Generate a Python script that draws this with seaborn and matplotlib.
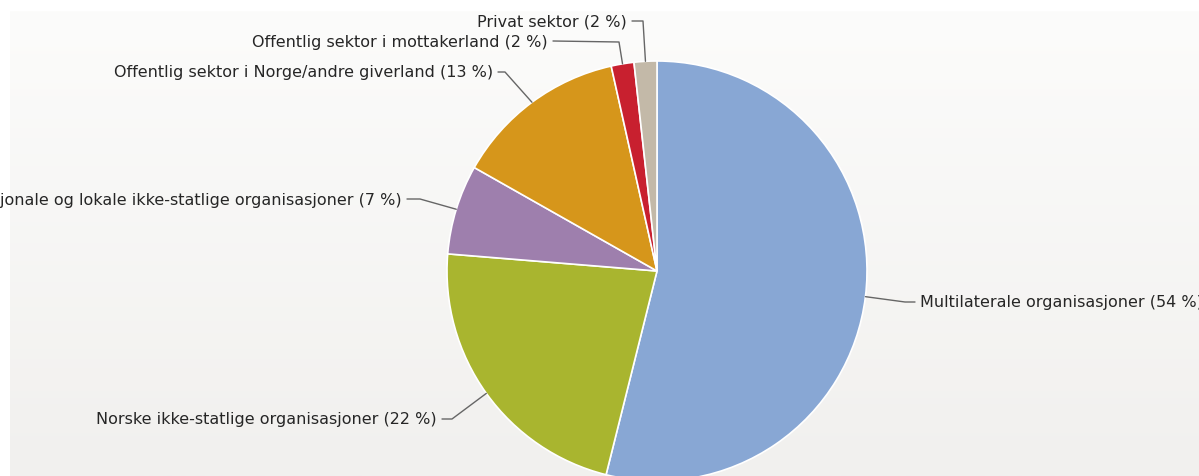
import numpy as np
import matplotlib
matplotlib.use("Agg")
import matplotlib.pyplot as plt
import seaborn as sns

# data
categories = [
    "Multilaterale organisasjoner",
    "Norske ikke-statlige organisasjoner",
    "Internasjonale og lokale ikke-statlige organisasjoner",
    "Offentlig sektor i Norge/andre giverland",
    "Offentlig sektor i mottakerland",
    "Privat sektor",
]
shares = [53.9, 22.4, 6.9, 13.3, 1.75, 1.75]
colors = ["#88a7d4", "#a9b52f", "#9e7fad", "#d6961b", "#c8202f", "#c3b9a8"]

sns.set_theme(style="white")
plt.rcParams["font.family"] = ["DejaVu Sans"]

W, H = 1199, 477
fig = plt.figure(figsize=(W / 100, H / 100), dpi=100, facecolor="white")
ax = fig.add_axes([0, 0, 1, 1])

# light gradient panel behind the pie
grad = np.linspace(0, 1, 256).reshape(-1, 1)
bg = matplotlib.colors.LinearSegmentedColormap.from_list("bg", ["#fcfcfb", "#f1f0ee"])
ax.imshow(grad, cmap=bg, extent=[10, W, 0, H - 12], aspect="auto", zorder=0)

cx, cy, r = 657, H - 272, 210
wedges, _ = ax.pie(shares, colors=colors, startangle=90, counterclock=False,
                   center=(cx, cy), radius=r,
                   wedgeprops=dict(edgecolor="white", linewidth=1.2, zorder=2))

# label layout in pixel coords (from top): text x, text y, alignment, elbow x, elbow y
layout = [
    (920, 303, "left", 905, 303),
    (437, 420, "right", 452, 420),
    (402, 200, "right", 420, 200),
    (493, 73, "right", 505, 73),
    (548, 42, "right", 619, 43),
    (627, 22, "right", 643, 22),
]

for w, name, val, (tx, ty, ha, ex, ey) in zip(wedges, categories, shares, layout):
    mid = np.deg2rad((w.theta1 + w.theta2) / 2)
    px, py = cx + r * np.cos(mid), cy + r * np.sin(mid)
    end = tx - 5 if ha == "left" else tx + 5
    ax.plot([px, ex, end], [py, H - ey, H - ty], color="#666666", lw=1, zorder=3)
    ax.text(tx, H - ty, f"{name} ({val:.0f} %)", ha=ha, va="center",
            fontsize=11.5, color="#262626", zorder=4)

ax.set_xlim(0, W)
ax.set_ylim(0, H)
ax.set_aspect("equal")
ax.axis("off")

fig.savefig("out.png", dpi=100, facecolor="white")
